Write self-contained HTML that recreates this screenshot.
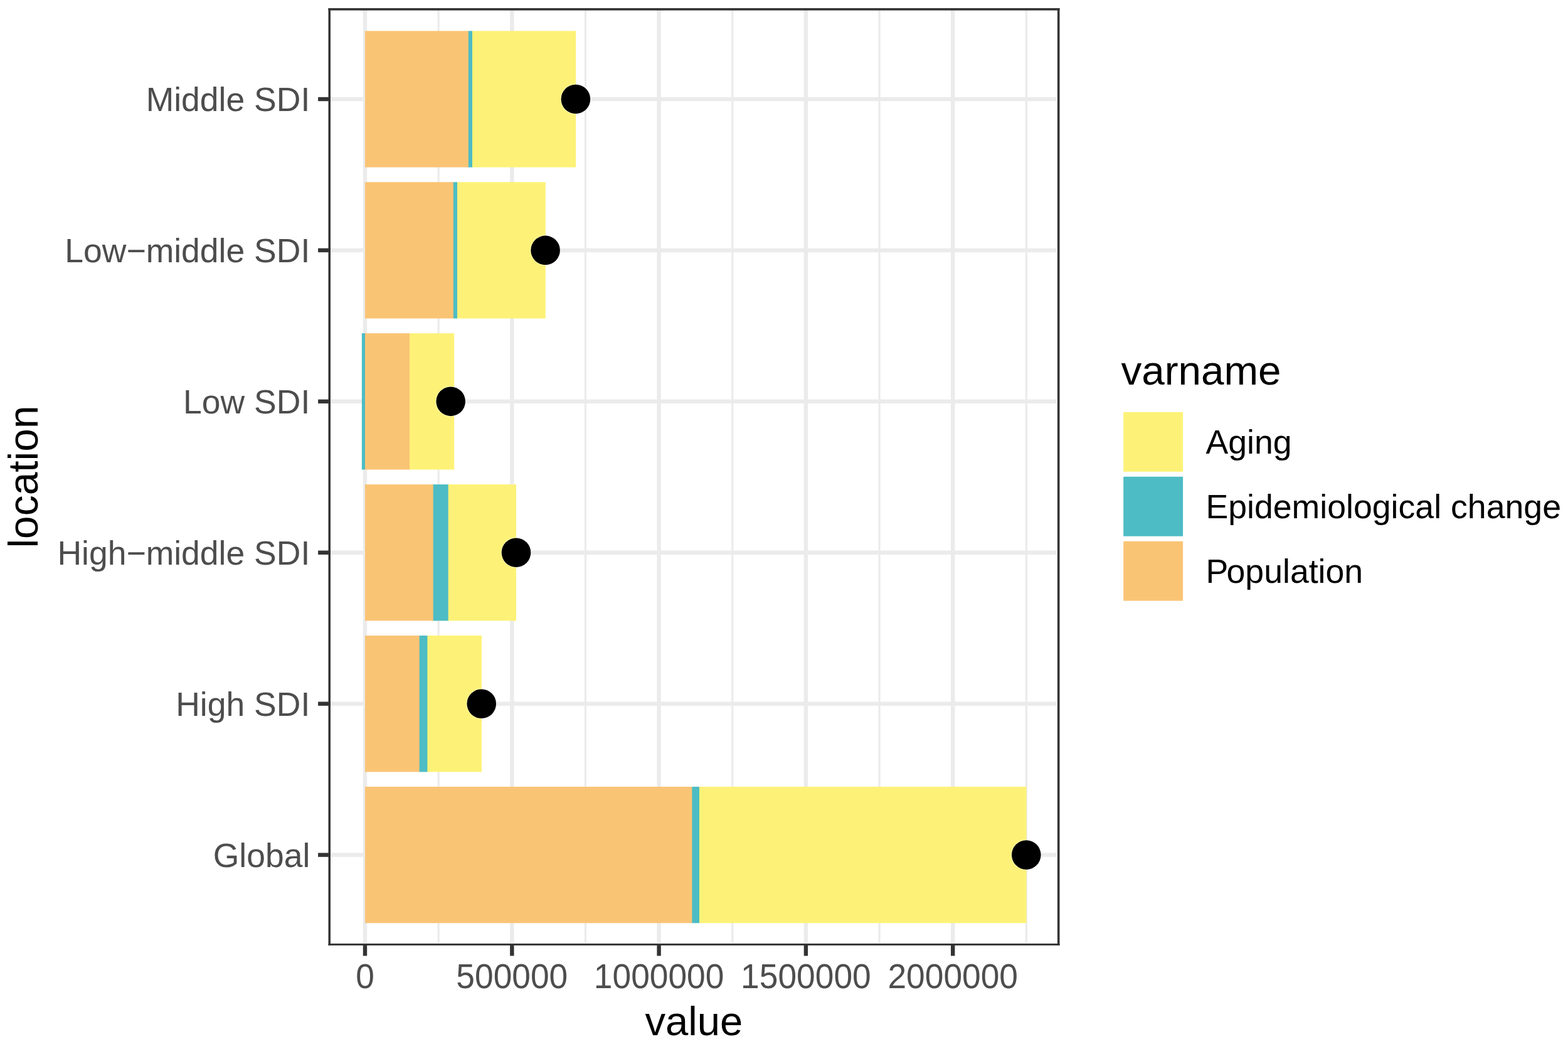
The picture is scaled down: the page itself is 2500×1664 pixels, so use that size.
<!DOCTYPE html>
<html lang="en">
<head>
<meta charset="utf-8">
<title>Decomposition by location</title>
<style>
html,body{margin:0;padding:0;background:#fff;}
body{width:2500px;height:1664px;overflow:hidden;}
svg{display:block;}
text{font-family:"Liberation Sans",sans-serif;}
.ax{font-size:53.5px;fill:#4D4D4D;}
.ti{font-size:65.2px;fill:#000;}
.lg{font-size:53.65px;fill:#000;}
</style>
</head>
<body>
<svg width="2500" height="1664" viewBox="0 0 2500 1664">
<rect x="0" y="0" width="2500" height="1664" fill="#ffffff"/>
<defs><clipPath id="pc"><rect x="523.50" y="13.00" width="1166.00" height="1493.70"/></clipPath></defs>
<g clip-path="url(#pc)">
<rect x="697.55" y="13.00" width="3.20" height="1490.00" fill="#EBEBEB"/>
<rect x="931.85" y="13.00" width="3.20" height="1490.00" fill="#EBEBEB"/>
<rect x="1166.15" y="13.00" width="3.20" height="1490.00" fill="#EBEBEB"/>
<rect x="1400.45" y="13.00" width="3.20" height="1490.00" fill="#EBEBEB"/>
<rect x="1634.75" y="13.00" width="3.20" height="1490.00" fill="#EBEBEB"/>
<rect x="578.80" y="13.00" width="6.40" height="1490.00" fill="#EBEBEB"/>
<rect x="813.10" y="13.00" width="6.40" height="1490.00" fill="#EBEBEB"/>
<rect x="1047.40" y="13.00" width="6.40" height="1490.00" fill="#EBEBEB"/>
<rect x="1281.70" y="13.00" width="6.40" height="1490.00" fill="#EBEBEB"/>
<rect x="1516.00" y="13.00" width="6.40" height="1490.00" fill="#EBEBEB"/>
<rect x="523.50" y="154.80" width="1160.60" height="6.40" fill="#EBEBEB"/>
<rect x="523.50" y="395.72" width="1160.60" height="6.40" fill="#EBEBEB"/>
<rect x="523.50" y="636.64" width="1160.60" height="6.40" fill="#EBEBEB"/>
<rect x="523.50" y="877.56" width="1160.60" height="6.40" fill="#EBEBEB"/>
<rect x="523.50" y="1118.48" width="1160.60" height="6.40" fill="#EBEBEB"/>
<rect x="523.50" y="1359.40" width="1160.60" height="6.40" fill="#EBEBEB"/>
<rect x="752.00" y="49.35" width="166.20" height="217.30" fill="#FDF277"/>
<rect x="745.90" y="49.35" width="7.10" height="217.30" fill="#4DBCC4"/>
<rect x="582.00" y="49.35" width="164.90" height="217.30" fill="#FAC475"/>
<rect x="728.00" y="290.27" width="141.80" height="217.30" fill="#FDF277"/>
<rect x="721.90" y="290.27" width="7.10" height="217.30" fill="#4DBCC4"/>
<rect x="582.00" y="290.27" width="140.90" height="217.30" fill="#FAC475"/>
<rect x="652.10" y="531.19" width="72.10" height="217.30" fill="#FDF277"/>
<rect x="581.00" y="531.19" width="72.10" height="217.30" fill="#FAC475"/>
<rect x="576.90" y="531.19" width="5.10" height="217.30" fill="#4DBCC4"/>
<rect x="713.70" y="772.11" width="109.30" height="217.30" fill="#FDF277"/>
<rect x="689.70" y="772.11" width="25.00" height="217.30" fill="#4DBCC4"/>
<rect x="582.00" y="772.11" width="108.70" height="217.30" fill="#FAC475"/>
<rect x="680.40" y="1013.03" width="87.60" height="217.30" fill="#FDF277"/>
<rect x="667.70" y="1013.03" width="13.70" height="217.30" fill="#4DBCC4"/>
<rect x="582.00" y="1013.03" width="86.70" height="217.30" fill="#FAC475"/>
<rect x="1114.00" y="1253.95" width="522.60" height="217.30" fill="#FDF277"/>
<rect x="1102.40" y="1253.95" width="12.60" height="217.30" fill="#4DBCC4"/>
<rect x="582.00" y="1253.95" width="521.40" height="217.30" fill="#FAC475"/>
<circle cx="917.90" cy="158.00" r="24.60" fill="#fff" fill-opacity="0.35"/>
<circle cx="917.90" cy="158.00" r="23.30" fill="#000"/>
<circle cx="869.60" cy="398.92" r="24.60" fill="#fff" fill-opacity="0.35"/>
<circle cx="869.60" cy="398.92" r="23.30" fill="#000"/>
<circle cx="718.70" cy="639.84" r="24.60" fill="#fff" fill-opacity="0.35"/>
<circle cx="718.70" cy="639.84" r="23.30" fill="#000"/>
<circle cx="823.00" cy="880.76" r="24.60" fill="#fff" fill-opacity="0.35"/>
<circle cx="823.00" cy="880.76" r="23.30" fill="#000"/>
<circle cx="767.75" cy="1121.68" r="24.60" fill="#fff" fill-opacity="0.35"/>
<circle cx="767.75" cy="1121.68" r="23.30" fill="#000"/>
<circle cx="1636.30" cy="1362.60" r="24.60" fill="#fff" fill-opacity="0.35"/>
<circle cx="1636.30" cy="1362.60" r="23.30" fill="#000"/>
</g>
<rect x="523.50" y="13.00" width="1166.00" height="3.60" fill="#333333"/>
<rect x="523.50" y="1503.90" width="1166.00" height="3.00" fill="#333333"/>
<rect x="523.50" y="13.00" width="3.50" height="1493.90" fill="#333333"/>
<rect x="1685.90" y="13.00" width="3.60" height="1493.90" fill="#333333"/>
<rect x="507.10" y="154.80" width="17.90" height="6.40" fill="#333333"/>
<rect x="507.10" y="395.72" width="17.90" height="6.40" fill="#333333"/>
<rect x="507.10" y="636.64" width="17.90" height="6.40" fill="#333333"/>
<rect x="507.10" y="877.56" width="17.90" height="6.40" fill="#333333"/>
<rect x="507.10" y="1118.48" width="17.90" height="6.40" fill="#333333"/>
<rect x="507.10" y="1359.40" width="17.90" height="6.40" fill="#333333"/>
<rect x="578.80" y="1505.40" width="6.40" height="18.10" fill="#333333"/>
<rect x="813.10" y="1505.40" width="6.40" height="18.10" fill="#333333"/>
<rect x="1047.40" y="1505.40" width="6.40" height="18.10" fill="#333333"/>
<rect x="1281.70" y="1505.40" width="6.40" height="18.10" fill="#333333"/>
<rect x="1516.00" y="1505.40" width="6.40" height="18.10" fill="#333333"/>
<text class="ax" x="494.3" y="177.20" text-anchor="end">Middle SDI</text>
<text class="ax" x="494.3" y="418.12" text-anchor="end">Low−middle SDI</text>
<text class="ax" x="494.3" y="659.04" text-anchor="end">Low SDI</text>
<text class="ax" x="494.3" y="899.96" text-anchor="end">High−middle SDI</text>
<text class="ax" x="494.3" y="1140.88" text-anchor="end">High SDI</text>
<text class="ax" x="494.3" y="1381.80" text-anchor="end">Global</text>
<text class="ax" style="font-size:53.33px" transform="translate(582.00,1575.3) scale(1,1.045)" text-anchor="middle">0</text>
<text class="ax" style="font-size:53.33px" transform="translate(816.30,1575.3) scale(1,1.045)" text-anchor="middle">500000</text>
<text class="ax" style="font-size:53.33px" transform="translate(1050.60,1575.3) scale(1,1.045)" text-anchor="middle">1000000</text>
<text class="ax" style="font-size:53.33px" transform="translate(1284.90,1575.3) scale(1,1.045)" text-anchor="middle">1500000</text>
<text class="ax" style="font-size:53.33px" transform="translate(1519.20,1575.3) scale(1,1.045)" text-anchor="middle">2000000</text>
<text class="ti" x="1106.3" y="1650.4" text-anchor="middle">value</text>
<text class="ti" style="font-size:65.9px" transform="translate(60.0,760.0) rotate(-90)" text-anchor="middle">location</text>
<text class="ti" style="font-size:65.6px" x="1787.4" y="613.2">varname</text>
<rect x="1791.20" y="656.90" width="94.90" height="94.90" fill="#FDF277"/>
<text class="lg" x="1922.4" y="723.45">Aging</text>
<rect x="1791.20" y="759.80" width="94.90" height="94.90" fill="#4DBCC4"/>
<text class="lg" x="1922.4" y="826.35">Epidemiological change</text>
<rect x="1791.20" y="862.70" width="94.90" height="94.90" fill="#FAC475"/>
<text class="lg" x="1922.4" y="929.25" dx="0 -2.7">Population</text>
</svg>
</body>
</html>
